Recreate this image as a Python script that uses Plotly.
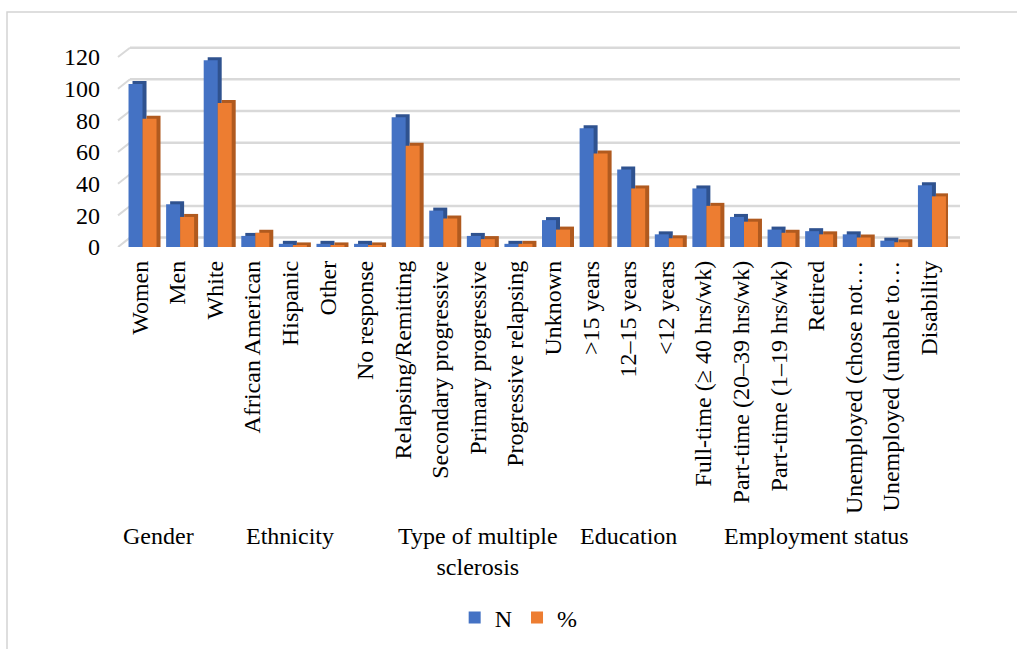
import numpy as np
import plotly.graph_objects as go

# ---------------- data ----------------
categories = [
    "Women", "Men",
    "White", "African American", "Hispanic", "Other", "No response",
    "Relapsing/Remitting", "Secondary progressive", "Primary progressive",
    "Progressive relapsing", "Unknown",
    "&gt;15 years", "12–15 years", "&lt;12 years",
    "Full-time (≥ 40 hrs/wk)", "Part-time (20–39 hrs/wk)", "Part-time (1–19 hrs/wk)",
    "Retired", "Unemployed (chose not…", "Unemployed (unable to…", "Disability",
]
n_values = [103, 27, 118, 7, 2, 2, 2, 82, 23, 7, 2, 17, 75, 49, 8, 37, 19, 11, 10, 8, 4, 39]
pct_values = [81, 19, 91, 9, 1, 1, 1, 64, 18, 5, 2, 11, 59, 37, 5.5, 26, 16, 9, 8, 6, 3, 32]

groups = ["Gender", "Ethnicity", "Type of multiple<br>sclerosis", "Education", "Employment status"]
group_sizes = [2, 5, 5, 3, 7]

y_ticks = [0, 20, 40, 60, 80, 100, 120]

# ---------------- style ----------------
FONT = "Liberation Serif, Times New Roman, serif"
FS = 24
BLUE, BLUE_DARK = "#4472C4", "#2F528F"
ORANGE, ORANGE_DARK = "#ED7D31", "#B05A1F"
GRID = "#d9d9d9"

W, H = 1017, 649
ML, MR, MT, MB = 121, 57, 46, 402
plot_w = W - ML - MR          # 839
plot_h = H - MT - MB          # 201
y_top = 127
k = plot_h / y_top            # px per unit
cat_px = 827 / len(categories)

bar_w = 14 / cat_px
off_blue = -0.30
off_orange = off_blue + bar_w
depth_x = 4 / cat_px
depth_y = 3 / k

idx = list(range(len(categories)))
n_arr = np.array(n_values, dtype=float)
p_arr = np.array(pct_values, dtype=float)

fig = go.Figure()
fig.add_trace(go.Bar(x=idx, y=n_arr + depth_y, width=bar_w, offset=off_blue + depth_x,
                     marker=dict(color=BLUE_DARK, line=dict(width=0)),
                     showlegend=False, hoverinfo="skip"))
fig.add_trace(go.Bar(x=idx, y=n_arr, width=bar_w, offset=off_blue, name="N",
                     marker=dict(color=BLUE, line=dict(width=0))))
fig.add_trace(go.Bar(x=idx, y=p_arr + depth_y, width=bar_w, offset=off_orange + depth_x,
                     marker=dict(color=ORANGE_DARK, line=dict(width=0)),
                     showlegend=False, hoverinfo="skip"))
fig.add_trace(go.Bar(x=idx, y=p_arr, width=bar_w, offset=off_orange, name="%",
                     marker=dict(color=ORANGE, line=dict(width=0))))

# back-wall gridlines (3D look) from tick values
wall_up = 9.4 / k
x_front = -3 / plot_w
x_back = 9 / plot_w
shapes = []
for v in y_ticks:
    shapes.append(dict(type="line", xref="paper", yref="y", x0=x_back, x1=1,
                       y0=v + wall_up, y1=v + wall_up, line=dict(color=GRID, width=2.5),
                       layer="below"))
    shapes.append(dict(type="line", xref="paper", yref="y", x0=x_front, x1=x_back,
                       y0=v, y1=v + wall_up, line=dict(color=GRID, width=2), layer="below"))
# chart frame
shapes.append(dict(type="rect", xref="paper", yref="paper",
                   x0=(7 - ML) / plot_w, x1=(1030 - ML) / plot_w,
                   y0=(MT + plot_h - 12) / plot_h, y1=(MT + plot_h - 670) / plot_h,
                   line=dict(color="#d4d4d4", width=1.5), fillcolor="rgba(0,0,0,0)",
                   layer="below"))

# group labels
annotations = []
start = 0
for g, s in zip(groups, group_sizes):
    center = start + (s - 1) / 2
    annotations.append(dict(x=center, xref="x", y=(MT + plot_h - 521) / plot_h, yref="paper",
                            text=g, showarrow=False, xanchor="center", yanchor="top",
                            font=dict(family=FONT, size=FS, color="#000000")))
    start += s

fig.update_layout(
    width=W, height=H,
    margin=dict(l=ML, r=MR, t=MT, b=MB, autoexpand=False),
    paper_bgcolor="white", plot_bgcolor="rgba(0,0,0,0)",
    barmode="overlay",
    font=dict(family=FONT, size=FS, color="#000000"),
    shapes=shapes,
    annotations=annotations,
    showlegend=True,
    legend=dict(orientation="h", xref="container", yref="container",
                x=0.51, y=1 - 618 / H, xanchor="center", yanchor="middle",
                font=dict(family=FONT, size=FS, color="#000000"),
                itemwidth=30, traceorder="normal"),
    xaxis=dict(domain=[0, 827 / plot_w], range=[-0.5, len(categories) - 0.5],
               tickmode="array", tickvals=idx, ticktext=categories,
               tickangle=-90, showgrid=False, zeroline=False, showline=False,
               ticks="", ticklabelstandoff=8,
               tickfont=dict(family=FONT, size=FS, color="#000000")),
    yaxis=dict(range=[0, y_top], tickmode="array", tickvals=y_ticks,
               showgrid=False, zeroline=False, showline=False, ticks="",
               ticklabelstandoff=20,
               tickfont=dict(family=FONT, size=FS, color="#000000")),
)

fig.write_html("out.html")
